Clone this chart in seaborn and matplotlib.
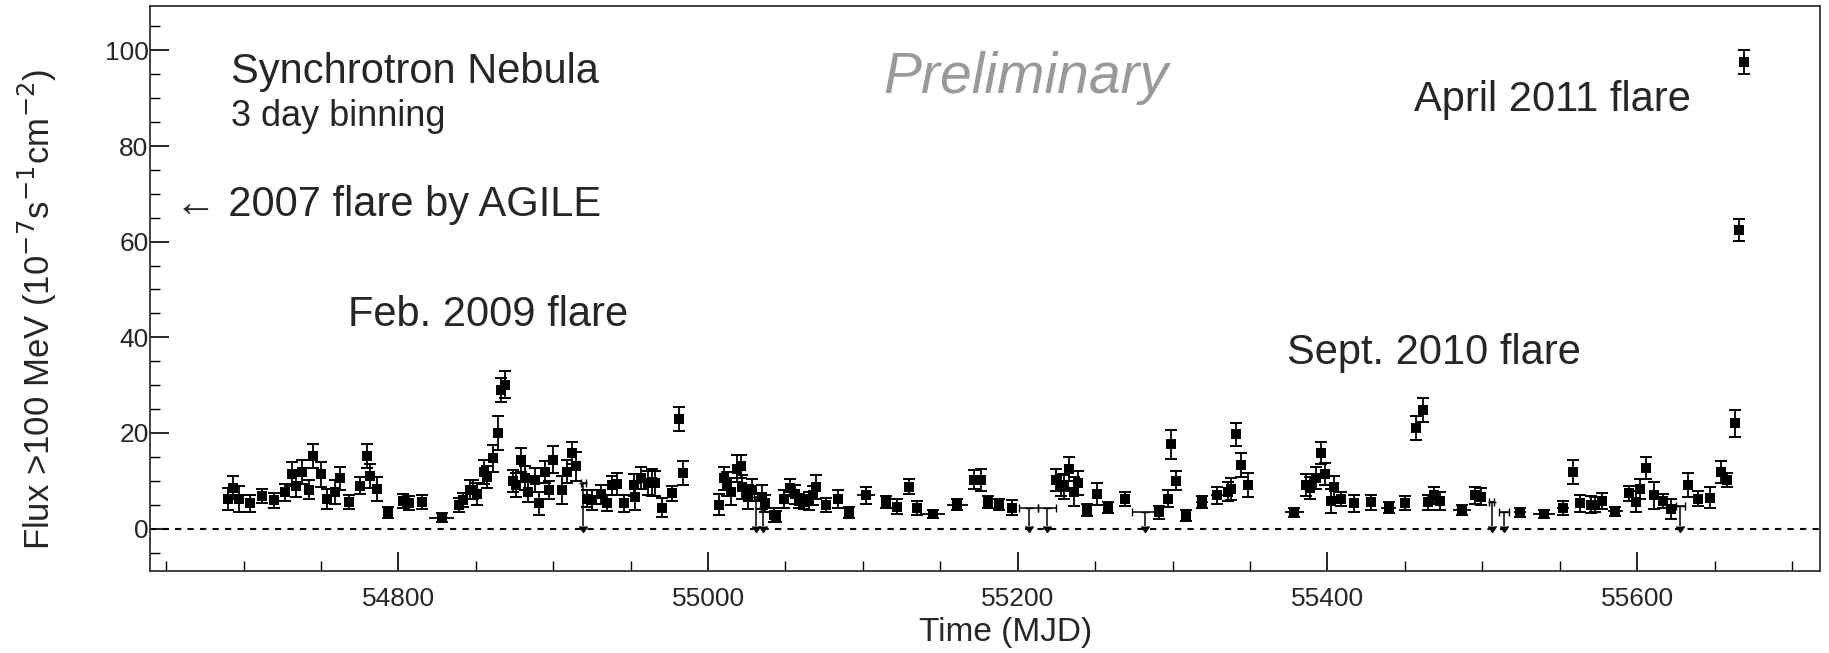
import numpy as np
import pandas as pd
import seaborn as sns
import matplotlib.pyplot as plt

# light curve, 3 day bins
mjd = [54690, 54693, 54697, 54704, 54712, 54720, 54727, 54731, 54734, 54738,
       54742, 54745, 54750, 54754, 54759, 54762, 54768, 54775, 54780, 54782,
       54786, 54793, 54803, 54807, 54815, 54828, 54839, 54842, 54846, 54848,
       54851, 54855, 54857, 54861, 54864.5, 54866, 54869, 54874, 54876, 54879,
       54882, 54884, 54888, 54891, 54894.5, 54897, 54900, 54906, 54909, 54912,
       54915, 54922, 54925, 54931, 54935, 54938, 54941, 54946, 54952, 54953,
       54957, 54961, 54964, 54966, 54970.5, 54977, 54981, 54984, 55007, 55010,
       55012.5, 55015, 55019, 55021, 55022, 55026, 55028.6, 55034.7, 55037, 55042.6,
       55044, 55049, 55053, 55056, 55059, 55062, 55065, 55068, 55070, 55076,
       55084, 55091, 55102, 55115, 55122, 55130, 55135, 55145, 55161, 55172,
       55176, 55180.5, 55188, 55196, 55225, 55228, 55230, 55233, 55236.5, 55239,
       55245, 55251, 55258, 55269, 55291, 55297, 55299, 55302, 55308.6, 55319,
       55329, 55335.5, 55338, 55341, 55344, 55348.4, 55378.6, 55386, 55389, 55392.6,
       55396, 55398.6, 55402, 55404, 55409, 55417, 55428, 55439.5, 55450, 55457,
       55461.5, 55465, 55469, 55473, 55487, 55495.5, 55499, 55524.5, 55540, 55552,
       55558.4, 55563, 55570, 55573, 55577, 55586, 55595, 55599, 55602, 55606,
       55611, 55616.5, 55622, 55633, 55639, 55647, 55654, 55658, 55663, 55666,
       55669]
flux = [6.2, 8.6, 6.2, 5.3, 6.8, 5.9, 7.6, 11.4, 9.0, 11.9,
        8.1, 15.1, 11.4, 6.2, 7.7, 10.5, 5.6, 9.0, 15.1, 11.1,
        8.2, 3.4, 5.8, 5.3, 5.6, 2.3, 5.0, 6.0, 8.1, 8.1,
        7.2, 11.9, 10.7, 14.7, 20.0, 29.0, 30.1, 10.0, 9.1, 14.4,
        10.5, 7.7, 10.2, 5.3, 11.9, 8.1, 14.4, 8.1, 11.9, 15.8,
        13.0, 6.3, 6.0, 7.2, 5.3, 9.1, 9.3, 5.3, 9.1, 6.7,
        10.5, 9.5, 9.7, 9.5, 4.4, 7.4, 22.9, 11.7, 5.0, 10.5,
        9.3, 7.7, 12.5, 13.0, 8.8, 6.7, 8.1, 6.7, 5.3, 2.9,
        2.5, 6.2, 8.6, 7.2, 5.8, 5.6, 5.8, 7.0, 8.8, 5.0,
        6.2, 3.4, 7.0, 5.6, 4.6, 8.8, 4.3, 3.0, 5.0, 10.2,
        10.2, 5.6, 5.0, 4.4, 10.2, 9.1, 8.8, 12.5, 7.7, 9.5,
        3.9, 7.3, 4.4, 6.2, 3.4, 6.3, 17.6, 10.0, 2.7, 5.6,
        7.0, 7.7, 8.3, 19.7, 13.3, 9.1, 3.4, 9.1, 8.6, 10.5,
        15.8, 11.4, 5.8, 8.8, 6.2, 5.3, 5.5, 4.4, 5.3, 21.0,
        24.8, 5.5, 7.0, 5.8, 3.9, 7.0, 6.7, 3.4, 3.0, 4.3,
        11.8, 5.3, 5.0, 5.0, 5.8, 3.6, 7.4, 5.6, 8.3, 12.6,
        7.0, 5.8, 4.1, 9.1, 6.3, 6.5, 11.8, 10.2, 22.0, 62.5,
        97.5]
flux_err = [2.3, 2.5, 2.8, 1.8, 1.5, 1.5, 1.8, 2.5, 2.3, 2.5,
            2.0, 2.5, 2.6, 2.0, 2.5, 2.4, 1.5, 1.8, 2.5, 2.5,
            2.5, 1.2, 1.5, 1.5, 1.5, 1.0, 1.5, 1.5, 2.0, 2.0,
            2.3, 2.5, 2.3, 2.8, 3.5, 2.5, 2.8, 2.3, 2.5, 2.5,
            2.5, 2.2, 2.5, 2.4, 2.3, 1.8, 2.8, 3.0, 2.4, 2.3,
            3.0, 1.8, 2.0, 2.0, 1.7, 2.0, 2.3, 1.8, 2.3, 2.8,
            2.3, 2.5, 2.8, 2.6, 2.0, 1.6, 2.5, 2.5, 2.2, 2.4,
            2.5, 2.8, 2.8, 2.5, 2.5, 2.5, 2.3, 2.5, 1.8, 1.5,
            1.2, 1.8, 1.8, 2.0, 1.5, 1.5, 1.8, 2.0, 2.5, 1.5,
            1.8, 1.2, 1.8, 1.2, 1.5, 1.5, 1.5, 0.8, 1.2, 2.0,
            2.3, 1.2, 1.2, 1.5, 2.3, 2.3, 2.5, 2.5, 3.0, 2.5,
            1.2, 2.3, 1.2, 1.5, 1.3, 1.8, 3.0, 2.0, 1.2, 1.2,
            1.8, 2.0, 2.3, 2.4, 2.5, 2.5, 1.0, 2.3, 2.3, 2.3,
            2.3, 2.3, 2.5, 2.3, 1.5, 1.8, 1.5, 1.2, 1.5, 2.5,
            2.5, 1.5, 1.8, 1.8, 1.0, 1.8, 1.8, 1.0, 0.8, 1.5,
            2.5, 1.8, 1.8, 1.6, 1.6, 1.0, 1.6, 2.2, 2.0, 2.3,
            2.8, 1.5, 2.0, 2.5, 1.5, 2.2, 2.3, 1.5, 2.8, 2.3,
            2.5]
bin_half = [1.5, 1.5, 1.5, 1.5, 1.5, 1.5, 1.5, 1.5, 1.5, 1.5,
            1.5, 1.5, 1.5, 1.5, 1.5, 1.5, 1.5, 1.5, 1.5, 1.5,
            1.5, 3, 2, 3, 3, 8, 3, 1.5, 1.5, 1.5,
            1.5, 1.5, 1.5, 1.5, 1.5, 1.5, 1.5, 1.5, 1.5, 1.5,
            1.5, 1.5, 1.5, 1.5, 1.5, 1.5, 1.5, 1.5, 1.5, 1.5,
            1.5, 1.5, 1.5, 1.5, 1.5, 1.5, 1.5, 1.5, 1.5, 1.5,
            1.5, 1.5, 1.5, 1.5, 1.5, 1.5, 1.5, 1.5, 1.5, 1.5,
            1.5, 1.5, 1.5, 1.5, 1.5, 1.5, 1.5, 1.5, 1.5, 1.5,
            1.5, 1.5, 1.5, 1.5, 1.5, 1.5, 1.5, 1.5, 1.5, 1.5,
            1.5, 3, 6, 3, 3, 2, 2, 8, 7, 1.5,
            1.5, 1.5, 3, 3, 1.5, 1.5, 1.5, 1.5, 1.5, 1.5,
            3, 1.5, 3, 3, 1.5, 1.5, 1.5, 1.5, 3, 4,
            4, 1.5, 1.5, 1.5, 1.5, 1.5, 6, 1.5, 1.5, 1.5,
            1.5, 1.5, 1.5, 1.5, 3, 3, 3, 5, 3, 1.5,
            1.5, 1.5, 1.5, 1.5, 6, 1.5, 1.5, 4, 7, 4,
            1.5, 1.5, 1.5, 1.5, 1.5, 5, 1.5, 1.5, 1.5, 1.5,
            1.5, 1.5, 1.5, 1.5, 3, 3, 1.5, 1.5, 1.5, 1.5,
            1.5]

# upper limits
ul_mjd = [54919.5, 55031, 55035.5, 55207, 55219, 55282, 55506, 55514, 55628]
ul_flux = [9.5, 6.7, 4.5, 4.3, 4.3, 3.4, 5.6, 3.5, 4.7]
ul_half = [1.5, 1.5, 1.5, 6, 6, 8, 1.5, 3, 3]

df = pd.DataFrame({"mjd": mjd, "flux": flux, "err": flux_err, "half": bin_half})

sns.set_theme(style="ticks")
plt.rcParams["font.family"] = ["Liberation Sans", "DejaVu Sans"]

fig = plt.figure(figsize=(18.29, 6.53), dpi=100)
ax = fig.add_axes([0.082, 0.126, 0.913, 0.865])

ax.axhline(0, color="black", ls=(0, (3, 3)), lw=1.5, zorder=1)

# horizontal bin widths (no caps), vertical errors with caps
ax.errorbar(df["mjd"], df["flux"], xerr=df["half"], fmt="none", ecolor="black",
            elinewidth=1.3, capsize=0, zorder=2)
ax.errorbar(df["mjd"], df["flux"], yerr=df["err"], fmt="none", ecolor="black",
            elinewidth=1.3, capsize=4.5, capthick=1.4, zorder=2)
sns.scatterplot(data=df, x="mjd", y="flux", marker="s", s=48, color="black",
                edgecolor="black", linewidth=0, ax=ax, zorder=3)

ul_len = [u - 0.6 for u in ul_flux]
ax.errorbar(ul_mjd, ul_flux, xerr=ul_half, yerr=ul_len, uplims=True, fmt="none",
            ecolor="black", color="black", elinewidth=1.1, capsize=3, zorder=2)

ax.set_xlim(54639.6, 55718)
ax.set_ylim(-8.8, 109.3)
ax.set_xticks([54800, 55000, 55200, 55400, 55600])
ax.set_xticks(np.arange(54650, 55701, 50), minor=True)
ax.set_yticks([0, 20, 40, 60, 80, 100])
ax.set_yticks(np.arange(-5, 106, 5), minor=True)
ax.tick_params(axis="both", which="both", direction="in", color="black",
               top=False, right=False)
ax.tick_params(axis="both", which="major", length=14, width=1.2, labelsize=19)
ax.tick_params(axis="both", which="minor", length=7, width=1.0)
ax.tick_params(axis="x", which="major", pad=12)
ax.tick_params(axis="y", which="major", pad=1)
for sp in ax.spines.values():
    sp.set_visible(True)
    sp.set_color("#333333")
    sp.set_linewidth(1.3)

ax.set_xlabel("")
ax.set_ylabel("")
fig.text(0.55, 0.031, "Time (MJD)", ha="center", va="center", fontsize=24)
fig.text(0.0205, 0.527, r"Flux >100 MeV (10$^{-7}$s$^{-1}$cm$^{-2}$)",
         rotation=90, ha="center", va="center", fontsize=25)

ax.text(0.0485, 0.883, "Synchrotron Nebula", transform=ax.transAxes,
        fontsize=30, va="center", ha="left")
ax.text(0.0485, 0.804, "3 day binning", transform=ax.transAxes,
        fontsize=26, va="center", ha="left")
ax.text(0.439, 0.872, "Preliminary", transform=ax.transAxes, fontsize=41,
        style="italic", color="#999999", va="center", ha="left")
ax.text(0.757, 0.833, "April 2011 flare", transform=ax.transAxes,
        fontsize=30, va="center", ha="left")
ax.text(0.015, 0.647, "\u2190 2007 flare by AGILE", transform=ax.transAxes,
        fontsize=30, va="center", ha="left")
ax.text(0.1185, 0.453, "Feb. 2009 flare", transform=ax.transAxes,
        fontsize=30, va="center", ha="left")
ax.text(0.681, 0.385, "Sept. 2010 flare", transform=ax.transAxes,
        fontsize=30, va="center", ha="left")

fig.savefig("out.png", dpi=100)
